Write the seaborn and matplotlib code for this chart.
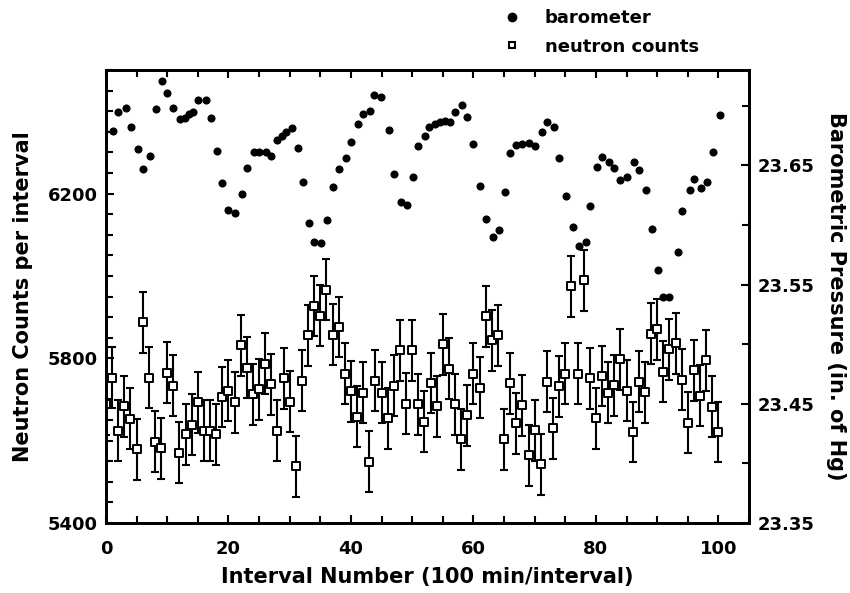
import numpy as np
import pandas as pd
import seaborn as sns
import matplotlib.pyplot as plt
from matplotlib.lines import Line2D
from matplotlib.ticker import MultipleLocator, FormatStrFormatter

sns.set_style('ticks')
plt.rcParams['font.family'] = ['DejaVu Sans']
plt.rcParams['font.weight'] = 'bold'
plt.rcParams['text.color'] = 'black'
plt.rcParams['axes.labelcolor'] = 'black'
plt.rcParams['xtick.color'] = 'black'
plt.rcParams['ytick.color'] = 'black'

# neutron counts, one per interval
interval = list(range(101))
counts = [5688, 5753, 5624, 5684, 5653, 5579, 5888, 5753, 5597, 5581,
          5765, 5733, 5571, 5616, 5639, 5693, 5624, 5624, 5616, 5706,
          5721, 5693, 5832, 5777, 5713, 5725, 5787, 5737, 5624, 5751,
          5694, 5538, 5745, 5856, 5927, 5903, 5967, 5857, 5876, 5763,
          5720, 5658, 5716, 5549, 5745, 5716, 5654, 5733, 5819, 5690,
          5819, 5688, 5646, 5740, 5684, 5834, 5775, 5688, 5603, 5662,
          5763, 5728, 5902, 5844, 5856, 5603, 5739, 5642, 5686, 5564,
          5625, 5543, 5743, 5630, 5732, 5763, 5975, 5763, 5989, 5751,
          5654, 5757, 5716, 5735, 5798, 5721, 5621, 5743, 5717, 5860,
          5870, 5767, 5822, 5836, 5748, 5643, 5771, 5709, 5795, 5682,
          5621]
count_err = 74

# barometer readings
baro_x = [1.2, 2.0, 3.3, 4.1, 5.3, 6.1, 7.2, 8.1, 9.2, 9.9,
          11.0, 12.1, 12.9, 13.6, 14.2, 15.0, 16.3, 17.2, 18.2, 19.0,
          19.9, 21.1, 22.2, 23.0, 24.1, 25.0, 26.1, 27.0, 27.9, 28.7,
          29.4, 30.3, 31.3, 32.2, 33.2, 33.9, 35.1, 36.1, 37.1, 38.1,
          39.2, 40.0, 41.2, 42.0, 43.1, 43.8, 44.9, 46.2, 47.1, 48.2,
          49.1, 50.2, 50.9, 52.1, 52.8, 53.8, 54.6, 55.4, 56.2, 57.0,
          58.1, 59.0, 60.0, 61.1, 62.0, 63.2, 64.1, 65.2, 66.0, 66.9,
          67.9, 69.0, 70.0, 71.2, 72.0, 73.1, 73.9, 75.1, 76.2, 77.2,
          78.4, 79.0, 80.2, 81.0, 82.1, 82.9, 84.0, 85.1, 86.2, 87.1,
          88.2, 89.1, 90.2, 91.0, 92.0, 93.4, 94.1, 95.3, 96.0, 97.2,
          98.2, 99.1, 100.2]
baro_p = [23.679, 23.695, 23.698, 23.682, 23.664, 23.647, 23.658, 23.697, 23.721, 23.711,
          23.698, 23.689, 23.690, 23.693, 23.695, 23.705, 23.705, 23.690, 23.662, 23.635,
          23.613, 23.610, 23.626, 23.648, 23.661, 23.661, 23.661, 23.658, 23.671, 23.675,
          23.678, 23.681, 23.665, 23.636, 23.602, 23.586, 23.585, 23.604, 23.632, 23.647,
          23.656, 23.670, 23.685, 23.693, 23.696, 23.709, 23.707, 23.680, 23.643, 23.619,
          23.617, 23.640, 23.666, 23.675, 23.682, 23.685, 23.686, 23.687, 23.686, 23.695,
          23.701, 23.691, 23.668, 23.633, 23.605, 23.590, 23.596, 23.628, 23.660, 23.667,
          23.668, 23.669, 23.666, 23.678, 23.686, 23.682, 23.656, 23.624, 23.598, 23.582,
          23.586, 23.616, 23.649, 23.657, 23.653, 23.648, 23.638, 23.640, 23.653, 23.646,
          23.629, 23.597, 23.562, 23.540, 23.540, 23.577, 23.612, 23.629, 23.639, 23.631,
          23.636, 23.661, 23.692]

count_ticks = [5400, 5800, 6200]
baro_ticks = [23.35, 23.45, 23.55, 23.65]

neutron = pd.DataFrame({'Interval': interval, 'Counts': counts})
baro = pd.DataFrame({'Interval': baro_x, 'Pressure': baro_p})

fig = plt.figure(figsize=(8.5, 5.93), dpi=100)
ax = fig.add_axes([0.1247, 0.118, 0.7565, 0.7639])
ax2 = ax.twinx()

# error bars + open squares
ax.errorbar(neutron['Interval'], neutron['Counts'], yerr=count_err, fmt='none',
            ecolor='black', elinewidth=1.5, capsize=2.8, capthick=1.5, zorder=2)
sns.scatterplot(data=neutron, x='Interval', y='Counts', ax=ax, marker='s', s=26,
                color='white', edgecolor='black', linewidth=1.4, zorder=3)

# barometer dots
sns.scatterplot(data=baro, x='Interval', y='Pressure', ax=ax2, marker='o', s=34,
                color='black', edgecolor='black', linewidth=0)

ax.set_xlim(0, 105)
ax.set_ylim(5400, 6500)
ax2.set_ylim(23.35, 23.73)

ax.xaxis.set_major_locator(MultipleLocator(20))
ax.xaxis.set_minor_locator(MultipleLocator(5))
ax.set_yticks(count_ticks)
ax.yaxis.set_minor_locator(MultipleLocator(50))
ax2.set_yticks(baro_ticks)
ax2.yaxis.set_minor_locator(MultipleLocator(0.05))
ax2.yaxis.set_major_formatter(FormatStrFormatter('%.2f'))

ax.tick_params(axis='x', which='both', direction='in', top=True, bottom=True,
               width=1.5, labelsize=13, pad=12)
ax.tick_params(axis='x', which='major', length=6)
ax.tick_params(axis='x', which='minor', length=5)
ax.tick_params(axis='y', which='both', direction='in', left=True, right=False,
               width=1.5, labelsize=13, pad=6)
ax.tick_params(axis='y', which='major', length=6)
ax.tick_params(axis='y', which='minor', length=5)
ax2.tick_params(axis='y', which='both', direction='in', left=False, right=True,
                width=1.5, labelsize=13, pad=6)
ax2.tick_params(axis='y', which='major', length=6)
ax2.tick_params(axis='y', which='minor', length=5)

for a in (ax, ax2):
    for sp in a.spines.values():
        sp.set_linewidth(2)
        sp.set_color('black')

ax.set_xlabel('Interval Number (100 min/interval)', fontsize=15, fontweight='bold')
ax.set_ylabel('Neutron Counts per interval', fontsize=15, fontweight='bold')
ax2.set_ylabel('Barometric Pressure (in. of Hg)', fontsize=15, fontweight='bold',
               rotation=270, va='bottom')
ax.xaxis.set_label_coords(0.5, -0.097)
ax.yaxis.set_label_coords(-0.1135, 0.5)
ax2.yaxis.set_label_coords(1.12, 0.5)

handles = [Line2D([], [], marker='o', ls='none', color='black', markersize=6),
           Line2D([], [], marker='s', ls='none', mfc='white', mec='black',
                  mew=1.5, markersize=4.5)]
fig.legend(handles, ['barometer', 'neutron counts'], loc='upper left',
           bbox_to_anchor=(503 / 850, 0.985), frameon=False, fontsize=13,
           handlelength=1.0, handletextpad=1.3, labelspacing=0.6,
           borderpad=0, borderaxespad=0)

fig.savefig('out.png', dpi=100)
